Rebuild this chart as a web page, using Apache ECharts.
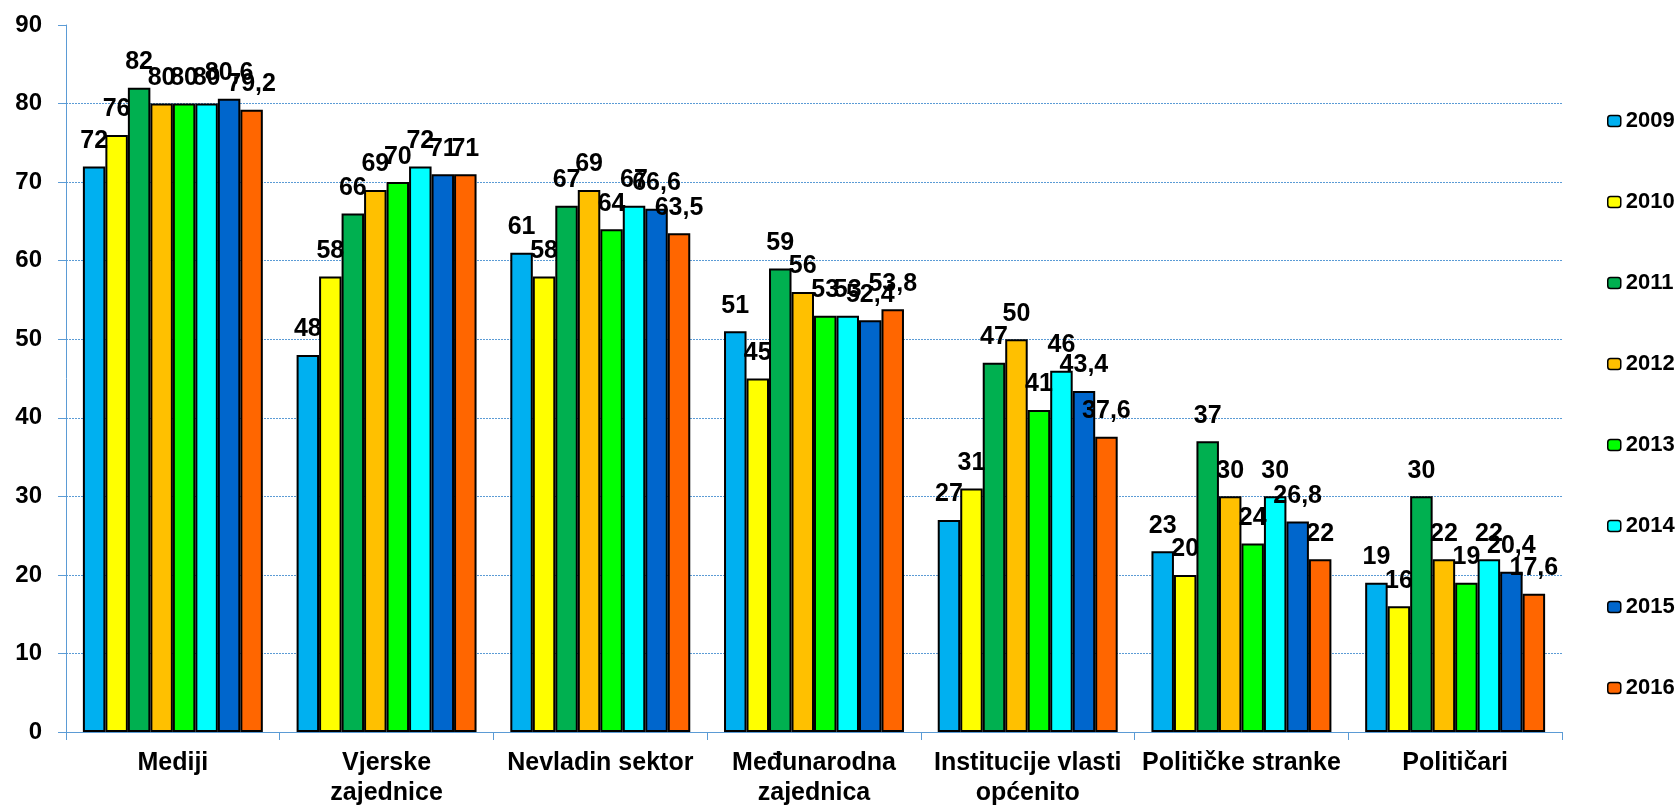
<!DOCTYPE html>
<html>
<head>
<meta charset="utf-8">
<script src="https://cdn.jsdelivr.net/npm/echarts@6/dist/echarts.min.js"></script>
<style>
html,body{margin:0;padding:0;background:#fff;}
#chart{width:1677px;height:808px;}
</style>
</head>
<body>
<div id="chart"></div>
<script>
const categories = ["Mediji", "Vjerske\nzajednice", "Nevladin sektor", "Međunarodna\nzajednica", "Institucije vlasti\nopćenito", "Političke stranke", "Političari"];
const years = ["2009", "2010", "2011", "2012", "2013", "2014", "2015", "2016"];
const v2009 = [72, 48, 61, 51, 27, 23, 19];
const v2010 = [76, 58, 58, 45, 31, 20, 16];
const v2011 = [82, 66, 67, 59, 47, 37, 30];
const v2012 = [80, 69, 69, 56, 50, 30, 22];
const v2013 = [80, 70, 64, 53, 41, 24, 19];
const v2014 = [80, 72, 67, 53, 46, 30, 22];
const v2015 = [80.6, 71, 66.6, 52.4, 43.4, 26.8, 20.4];
const v2016 = [79.2, 71, 63.5, 53.8, 37.6, 22, 17.6];
const yTicks = [0, 10, 20, 30, 40, 50, 60, 70, 80, 90];

const values = [v2009, v2010, v2011, v2012, v2013, v2014, v2015, v2016];
const colors = ["#00B0F0", "#FFFF00", "#00B050", "#FFC000", "#00FF00", "#00FFFF", "#0066CC", "#FF6600"];
const FONT = "'Liberation Sans', Arial, sans-serif";
const AXIS_BLUE = "#5B9BD5";

const gridTop = 25, gridBottom = 76, gridH = 808 - gridTop - gridBottom;
const yMax = yTicks[yTicks.length - 1];
const yStep = yTicks[1] - yTicks[0];

const chart = echarts.init(document.getElementById('chart'), null, {renderer: 'canvas'});
chart.setOption({
  backgroundColor: '#ffffff',
  animation: false,
  textStyle: {fontFamily: FONT},
  legend: {
    orient: 'vertical',
    left: 1602,
    top: 105,
    itemWidth: 13,
    itemHeight: 11,
    itemGap: 59,
    textStyle: {fontSize: 22, fontWeight: 'bold', color: '#000', fontFamily: FONT, lineHeight: 22},
    itemStyle: {borderColor: '#000', borderWidth: 1.5},
    data: years
  },
  grid: [
    {left: 66, right: 115, top: gridTop, bottom: gridBottom},
    {left: 66, right: 115, top: gridTop + gridH * yStep / yMax, bottom: gridBottom}
  ],
  xAxis: [
    {
      type: 'category', gridIndex: 0, data: categories,
      axisLine: {show: true, lineStyle: {color: AXIS_BLUE, width: 1}},
      axisTick: {show: true, length: 8, lineStyle: {color: AXIS_BLUE}},
      axisLabel: {fontSize: 25, fontWeight: 'bold', color: '#000', fontFamily: FONT, lineHeight: 30, margin: 16, interval: 0}
    },
    {type: 'value', gridIndex: 1, show: false, min: 0, max: 1}
  ],
  yAxis: [
    {
      type: 'value', gridIndex: 0, min: yTicks[0], max: yMax, interval: yStep,
      axisLine: {show: true, lineStyle: {color: AXIS_BLUE, width: 1}},
      axisTick: {show: true, length: 8, lineStyle: {color: AXIS_BLUE}},
      axisLabel: {fontSize: 24, fontWeight: 'bold', color: '#000', fontFamily: FONT, margin: 24},
      splitLine: {show: false}
    },
    {
      type: 'value', gridIndex: 1, min: yTicks[0], max: yMax - yStep, interval: yStep,
      axisLine: {show: false}, axisTick: {show: false}, axisLabel: {show: false},
      splitLine: {show: true, lineStyle: {color: AXIS_BLUE, type: [2, 1], width: 1}}
    }
  ],
  series: years.map((y, i) => ({
    name: y,
    type: 'bar',
    xAxisIndex: 0, yAxisIndex: 0,
    data: values[i],
    barGap: '0%',
    barCategoryGap: '15.8%',
    itemStyle: {color: colors[i], borderColor: '#000', borderWidth: 2},
    label: {
      show: true, position: 'top', distance: 13,
      fontSize: 25, fontWeight: 'bold', color: '#000', fontFamily: FONT,
      formatter: p => String(p.value).replace('.', ',')
    }
  }))
});
</script>
</body>
</html>
